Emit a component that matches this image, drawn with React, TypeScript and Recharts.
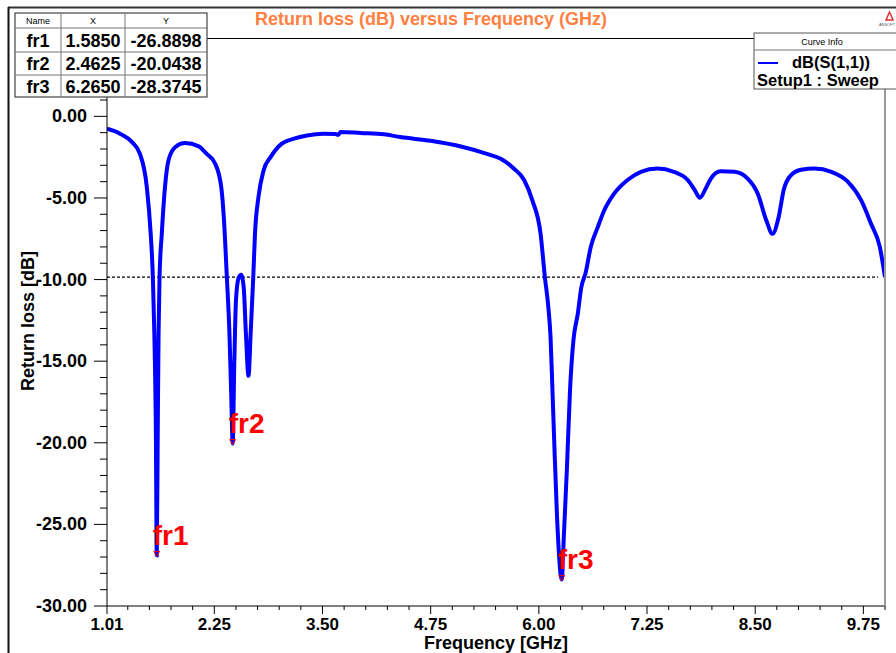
import { LineChart, Line, XAxis, YAxis, ReferenceLine, ReferenceDot } from 'recharts';

const FONT = '"Liberation Sans", Arial, Helvetica, sans-serif';

// Frequency sweep (GHz) and return loss (dB)
const freq = [
  1.01, 1.16, 1.3, 1.39, 1.47, 1.515, 1.54, 1.557, 1.575, 1.585, 1.596, 1.606, 1.617, 1.643, 1.68, 1.72, 1.8, 1.91,
  2.07, 2.16, 2.26, 2.33, 2.36, 2.395, 2.425, 2.445, 2.4625, 2.48, 2.5, 2.53, 2.56, 2.59, 2.615, 2.645, 2.67, 2.7,
  2.72, 2.76, 2.82, 2.9, 3.03, 3.17, 3.32, 3.51, 3.65, 3.68, 3.71, 3.94, 4.21, 4.4, 4.75, 5.1, 5.4, 5.56, 5.71,
  5.83, 5.925, 6.02, 6.07, 6.11, 6.135, 6.155, 6.175, 6.21, 6.265, 6.29, 6.325, 6.36, 6.4, 6.45, 6.49, 6.54, 6.6,
  6.68, 6.755, 6.87, 7.025, 7.18, 7.37, 7.56, 7.72, 7.8, 7.86, 7.93, 7.99, 8.1, 8.26, 8.41, 8.53, 8.63, 8.7, 8.77,
  8.83, 8.915, 9.03, 9.185, 9.38, 9.57, 9.725, 9.84, 9.94, 10.0,
];
const returnLoss = [
  -0.76, -1.06, -1.58, -2.29, -4.33, -7.2, -9.86, -13.3, -19.5, -26.8898, -19.5, -13.3, -9.86, -7.2, -4.33, -2.7, -1.88, -1.64,
  -1.84, -2.29, -2.9, -4.33, -6.2, -9.86, -13.3, -17.0, -20.0438, -15.4, -11.3, -9.9, -9.7, -10.5, -13.3, -15.9, -13.3, -9.86,
  -7.2, -4.95, -3.3, -2.5, -1.67, -1.37, -1.17, -1.06, -1.08, -1.14, -0.96, -1.02, -1.1, -1.27, -1.5, -1.85, -2.3, -2.6, -3.2,
  -3.9, -5.15, -7.2, -9.86, -11.7, -13.5, -16.4, -19.5, -24.5, -28.3745, -25.6, -21.5, -16.8, -13.7, -12.1, -10.5, -9.6, -8.0,
  -6.8, -5.77, -4.74, -3.9, -3.4, -3.2, -3.4, -3.9, -4.5, -4.99, -4.4, -3.8, -3.37, -3.4, -3.8, -4.74, -6.4, -7.2, -6.2,
  -4.5, -3.6, -3.27, -3.2, -3.4, -4.0, -5.15, -6.6, -8.0, -9.86,
];

// markers
const markerNames = ['fr1', 'fr2', 'fr3'];
const markerFreq = [1.585, 2.4625, 6.265];
const markerLoss = [-26.8898, -20.0438, -28.3745];

// axis ticks
const xMajor = [1.01, 2.25, 3.5, 4.75, 6.0, 7.25, 8.5, 9.75];
const xTicks = [
  1.01, 1.25, 1.5, 1.75, 2.0, 2.25, 2.5, 2.75, 3.0, 3.25, 3.5, 3.75, 4.0, 4.25, 4.5, 4.75, 5.0, 5.25, 5.5, 5.75,
  6.0, 6.25, 6.5, 6.75, 7.0, 7.25, 7.5, 7.75, 8.0, 8.25, 8.5, 8.75, 9.0, 9.25, 9.5, 9.75, 10.0,
];
const yTicks = [
  -30, -29, -28, -27, -26, -25, -24, -23, -22, -21, -20, -19, -18, -17, -16, -15, -14, -13, -12, -11, -10,
  -9, -8, -7, -6, -5, -4, -3, -2, -1, 0, 1, 2, 3, 4,
];
const thresholdDb = -9.85;

const data = freq.map((f, i) => ({ f, db: returnLoss[i] }));

function YTick(props: any) {
  const { x, y, payload } = props;
  const v = payload.value as number;
  const major = v % 5 === 0;
  return (
    <g>
      <line x1={x - (major ? 13 : 7)} y1={y} x2={x} y2={y} stroke="#000" strokeWidth={1} />
      {major && (
        <text x={x - 20} y={y + 6} textAnchor="end" fontSize={18} fontWeight="bold" fill="#000" fontFamily={FONT}>
          {v.toFixed(2)}
        </text>
      )}
    </g>
  );
}

function XTick(props: any) {
  const { x, y, payload } = props;
  const v = payload.value as number;
  const major = xMajor.includes(v);
  return (
    <g>
      <line x1={x} y1={y} x2={x} y2={y + (major ? 8 : 4)} stroke="#000" strokeWidth={1} />
      {major && (
        <text x={x} y={y + 24} textAnchor="middle" fontSize={17} fontWeight="bold" fill="#000" fontFamily={FONT}>
          {v.toFixed(2)}
        </text>
      )}
    </g>
  );
}

function MarkerShape(name: string) {
  return (props: any) => {
    const { cx, cy } = props;
    return (
      <g>
        <polygon points={`${cx - 3},${cy - 4} ${cx + 3},${cy - 4} ${cx},${cy + 1}`} fill="none" stroke="#ff0000" strokeWidth={1} />
        <text x={cx - 4} y={cy - 10} fontSize={28} fontWeight="bold" fill="#ff0000" fontFamily={FONT}>
          {name}
        </text>
      </g>
    );
  };
}

const colX = [15, 61, 125, 207];
const rowY = [13, 28, 52, 75, 97];

function Overlay() {
  const rows = markerNames.map((n, i) => [n, markerFreq[i].toFixed(4), markerLoss[i].toFixed(4)]);
  const header = ['Name', 'X', 'Y'];
  return (
    <svg width={896} height={653} style={{ position: 'absolute', left: 0, top: 0, pointerEvents: 'none' }}>
      {/* frame */}
      <line x1={8} y1={7.5} x2={896} y2={7.5} stroke="#333" strokeWidth={2} />
      <line x1={8.5} y1={7} x2={8.5} y2={653} stroke="#111" strokeWidth={2} />
      <line x1={107} y1={38.5} x2={885} y2={38.5} stroke="#000" strokeWidth={1} />
      <line x1={885} y1={38} x2={885} y2={606} stroke="#999" strokeWidth={2} />

      {/* title */}
      <text x={431} y={25} textAnchor="middle" fontSize={18} fontWeight="bold" fill="#FF8040" fontFamily={FONT}>
        Return loss (dB) versus Frequency (GHz)
      </text>

      {/* logo */}
      <polygon points="886,20 889.5,12 893,20" fill="none" stroke="#e03030" strokeWidth={1.5} />
      <text x={887} y={26} textAnchor="middle" fontSize={4} fill="#555" fontFamily={FONT}>ANSOFT</text>

      {/* marker table */}
      <rect x={colX[0]} y={rowY[0]} width={colX[3] - colX[0]} height={rowY[4] - rowY[0]} fill="#fff" stroke="#444" strokeWidth={1.2} />
      {rowY.slice(1, 4).map((ry) => (
        <line key={ry} x1={colX[0]} y1={ry} x2={colX[3]} y2={ry} stroke="#777" strokeWidth={1} />
      ))}
      {colX.slice(1, 3).map((cx) => (
        <line key={cx} x1={cx} y1={rowY[0]} x2={cx} y2={rowY[4]} stroke="#777" strokeWidth={1} />
      ))}
      {header.map((h, c) => (
        <text key={h} x={(colX[c] + colX[c + 1]) / 2} y={24} textAnchor="middle" fontSize={9} fill="#000" fontFamily={FONT}>
          {h}
        </text>
      ))}
      {rows.map((r, i) =>
        r.map((cell, c) => (
          <text
            key={`${i}-${c}`}
            x={(colX[c] + colX[c + 1]) / 2}
            y={(rowY[i + 1] + rowY[i + 2]) / 2 + 6.5}
            textAnchor="middle"
            fontSize={18}
            fontWeight="bold"
            fill="#000"
            fontFamily={FONT}
          >
            {cell}
          </text>
        ))
      )}

      {/* curve info */}
      <rect x={754} y={33} width={160} height={56} fill="#fff" stroke="#555" strokeWidth={1} />
      <line x1={754} y1={50} x2={896} y2={50} stroke="#777" strokeWidth={1} />
      <text x={822} y={45} textAnchor="middle" fontSize={9} fill="#000" fontFamily={FONT}>Curve Info</text>
      <line x1={758} y1={63} x2={778} y2={63} stroke="#0000ff" strokeWidth={2} />
      <text x={792} y={68} fontSize={16.5} fontWeight="bold" fill="#000" fontFamily={FONT}>dB(S(1,1))</text>
      <text x={757} y={86} fontSize={16.5} fontWeight="bold" fill="#000" fontFamily={FONT}>Setup1 : Sweep</text>

      {/* axis titles */}
      <text
        x={28}
        y={321}
        transform="rotate(-90 28 321)"
        textAnchor="middle"
        dominantBaseline="central"
        fontSize={18}
        fontWeight="bold"
        fill="#000"
        fontFamily={FONT}
      >
        Return loss [dB]
      </text>
      <text x={496} y={649} textAnchor="middle" fontSize={18} fontWeight="bold" fill="#000" fontFamily={FONT}>
        Frequency [GHz]
      </text>
    </svg>
  );
}

export default function App() {
  return (
    <div style={{ position: 'absolute', left: 0, top: 0, width: 896, height: 653, background: '#fff', fontFamily: FONT }}>
      <LineChart width={896} height={653} data={data} margin={{ top: 38, right: 11, bottom: 0, left: 0 }}>
        <XAxis
          dataKey="f"
          type="number"
          domain={[1.01, 10]}
          ticks={xTicks}
          interval={0}
          allowDataOverflow
          height={47}
          tickSize={0}
          tickMargin={0}
          tick={<XTick />}
          axisLine={{ stroke: '#000', strokeWidth: 1 }}
          tickLine={false}
        />
        <YAxis
          type="number"
          domain={[-30, 4.8]}
          ticks={yTicks}
          interval={0}
          allowDataOverflow
          width={107}
          tickSize={0}
          tickMargin={0}
          tick={<YTick />}
          axisLine={{ stroke: '#000', strokeWidth: 1 }}
          tickLine={false}
        />
        <ReferenceLine
          segment={[{ x: 1.01, y: thresholdDb }, { x: 9.92, y: thresholdDb }]}
          stroke="#000"
          strokeWidth={1.2}
          strokeDasharray="3 2"
        />
        <Line
          type="monotone"
          dataKey="db"
          stroke="#0000ff"
          strokeWidth={4}
          dot={false}
          isAnimationActive={false}
        />
        {markerNames.map((n, i) => (
          <ReferenceDot key={n} x={markerFreq[i]} y={markerLoss[i]} r={3} shape={MarkerShape(n)} />
        ))}
      </LineChart>
      <Overlay />
    </div>
  );
}
